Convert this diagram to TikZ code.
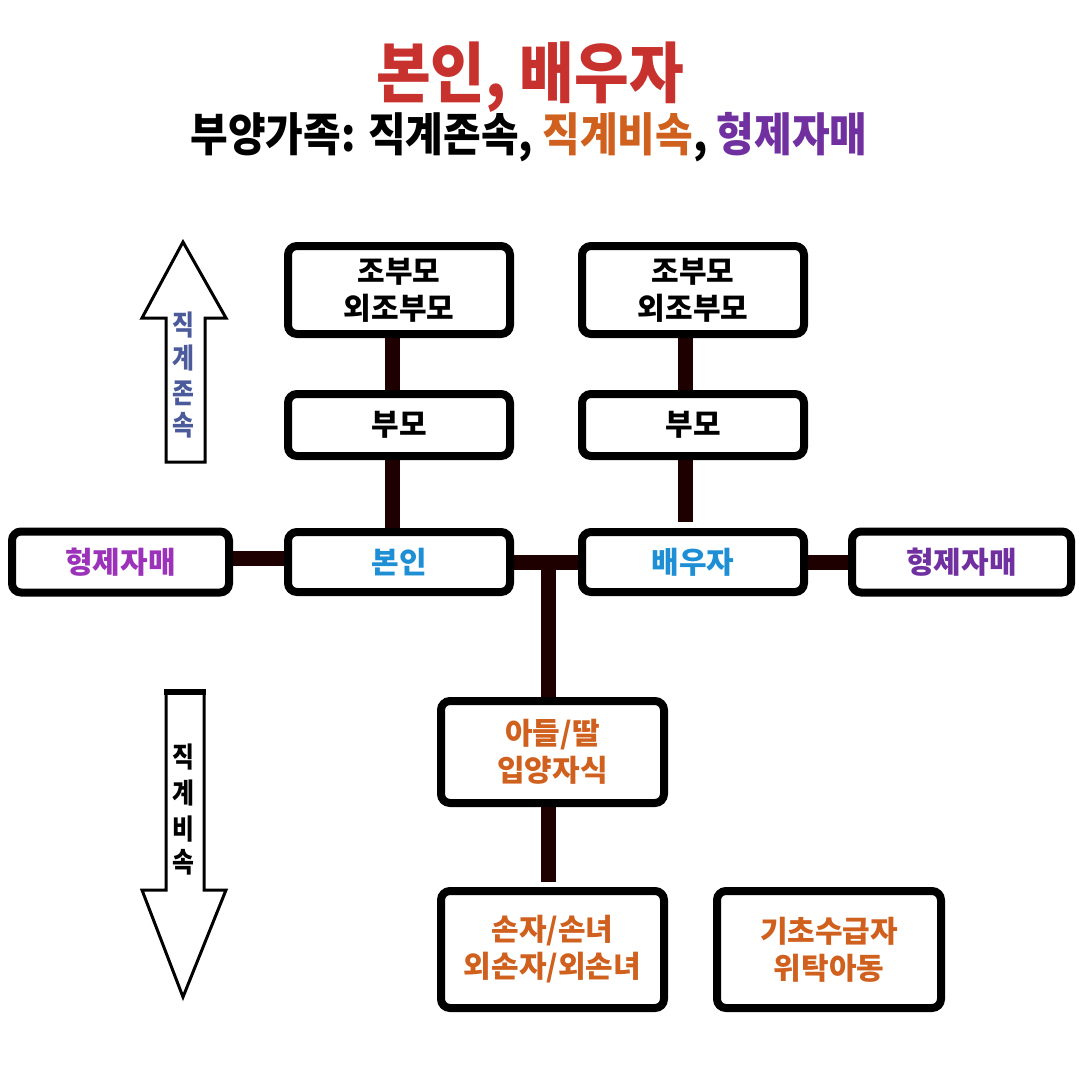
\documentclass[tikz,border=0pt]{standalone}
\usepackage{fontspec}
\setmainfont{Noto Sans CJK KR}
\usetikzlibrary{backgrounds}
\definecolor{tred}{RGB}{200,50,46}
\definecolor{torange}{RGB}{208,96,30}
\definecolor{tpurple}{RGB}{112,48,160}
\definecolor{tmag}{RGB}{155,50,185}
\definecolor{tblue}{RGB}{30,143,213}
\definecolor{tslate}{RGB}{74,90,154}
\definecolor{conncol}{RGB}{30,0,0}
\tikzset{
  box/.style={draw=black, line width=8pt, rounded corners=9pt, fill=white,
    align=center, inner sep=0pt, font=\fontsize{30}{37}\selectfont\bfseries},
  conn/.style={draw=conncol, line width=15pt},
  arrowshape/.style={draw=black, line width=3pt, fill=white, line join=miter},
  vchar/.style={font=\fontsize{28}{28}\selectfont\bfseries, inner sep=0pt}
}
\begin{document}
\begin{tikzpicture}[x=1pt,y=-1pt]
\useasboundingbox (0,0) rectangle (1080,1080);
% titles
\node[text=tred, font=\fontsize{66}{66}\selectfont\bfseries] (title) at (530,77) {\scalebox{0.9}[1]{본인, 배우자}};
\node[font=\fontsize{46}{46}\selectfont\bfseries] (subtitle) at (529,137) {\scalebox{0.89}[1]{부양가족: 직계존속, \textcolor{torange}{직계비속}, \textcolor{tpurple}{형제자매}}};
% boxes
\node[box, minimum width=222pt, minimum height=88pt] (gpL) at (399,290) {조부모\\외조부모};
\node[box, minimum width=222pt, minimum height=62pt] (pL) at (399,425) {부모};
\node[box, minimum width=222pt, minimum height=60pt, text=tblue] (me) at (399,562) {본인};
\node[box, minimum width=217pt, minimum height=61pt, text=tmag] (sibL) at (120.5,562) {형제자매};
\node[box, minimum width=222pt, minimum height=88pt] (gpR) at (693,290) {조부모\\외조부모};
\node[box, minimum width=222pt, minimum height=62pt] (pR) at (693,425) {부모};
\node[box, minimum width=222pt, minimum height=60pt, text=tblue] (sp) at (693,562) {배우자};
\node[box, minimum width=219pt, minimum height=61pt, text=tpurple] (sibR) at (961.5,562) {형제자매};
\node[box, minimum width=223pt, minimum height=102pt, text=torange] (kid) at (552.5,752) {아들/딸\\입양자식};
\node[box, minimum width=223pt, minimum height=117pt, text=torange] (gkid) at (552.5,949.5) {손자/손녀\\외손자/외손녀};
\node[box, minimum width=224pt, minimum height=117pt, text=torange] (basic) at (829,949.5) {기초수급자\\위탁아동};
\coordinate (j) at (548,562);
% connectors
\begin{scope}[on background layer]
\fill[white] (0,0) rectangle (1080,1080);
\draw[conn] ([xshift=-7pt]gpL.south) -- ([xshift=-7pt]pL.north);
\draw[conn] ([xshift=-7pt]pL.south) -- ([xshift=-7pt]me.north);
\draw[conn] ([xshift=-8pt]gpR.south) -- ([xshift=-8pt]pR.north);
\draw[conn] ([xshift=-8pt]pR.south) -- ([xshift=-8pt,yshift=6pt]sp.north);
\draw[conn] ([yshift=4pt]sibL.east) -- ([yshift=4pt]me.west);
\draw[conn] (me.east) -- (sp.west);
\draw[conn] (sp.east) -- (sibR.west);
\draw[conn] ([yshift=7.5pt]j) -- (j |- kid.north);
\draw[conn] ([xshift=-4.5pt]kid.south) -- ([xshift=-4.5pt,yshift=5pt]gkid.north);
\end{scope}
% up arrow
\draw[arrowshape] (183,242) -- (226,318) -- (205,318) -- (205,462) -- (166,462) -- (166,318) -- (142,318) -- cycle;
\node[vchar, text=tslate] (u1) at (183,325) {\scalebox{0.85}[1]{직}};
\node[vchar, text=tslate] (u2) at (183,358) {\scalebox{0.85}[1]{계}};
\node[vchar, text=tslate] (u3) at (183,393) {\scalebox{0.85}[1]{존}};
\node[vchar, text=tslate] (u4) at (183,425) {\scalebox{0.85}[1]{속}};
% down arrow
\draw[arrowshape] (166,691) -- (204,691) -- (204,890) -- (226,890) -- (183,997) -- (142,890) -- (166,890) -- cycle;
\draw[line width=6pt] (164,692) -- (206,692);
\node[vchar] (d1) at (183,757) {\scalebox{0.85}[1]{직}};
\node[vchar] (d2) at (183,793) {\scalebox{0.85}[1]{계}};
\node[vchar] (d3) at (183,829) {\scalebox{0.85}[1]{비}};
\node[vchar] (d4) at (183,862) {\scalebox{0.85}[1]{속}};
\end{tikzpicture}
\end{document}
